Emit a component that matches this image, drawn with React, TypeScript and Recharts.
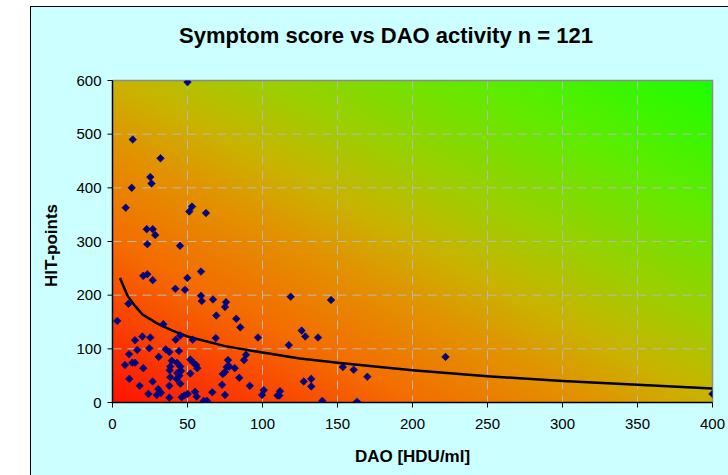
import React from 'react';
import {
  ComposedChart,
  Scatter,
  Line,
  XAxis,
  YAxis,
  CartesianGrid,
  ReferenceArea,
} from 'recharts';

// ---- Data ----
const TITLE = 'Symptom score vs DAO activity n = 121';
const X_TITLE = 'DAO [HDU/ml]';
const Y_TITLE = 'HIT-points';

const xTicks = [0, 50, 100, 150, 200, 250, 300, 350, 400];
const yTicks = [0, 100, 200, 300, 400, 500, 600];

const daoValues = [
  50, 13.5, 32, 25.2, 26, 12.8, 8.8, 53, 51.2, 62.3,
  22.8, 26.8, 28.5, 23.2, 45, 20.5, 23.2, 26.8, 49.9, 59,
  41.9, 48.3, 59, 59.5, 67, 75.7, 75, 10.6, 69.2, 3.2,
  82.5, 85.2, 33.9, 68.8, 97, 15, 19.9, 25.2, 42.1, 45.2,
  53.5, 16.5, 24.5, 35.5, 37.9, 44.3, 11, 30.8, 39.5, 43,
  45.2, 8.3, 13.2, 15, 38.5, 51.9, 53.9, 55.7, 56.5, 20.5,
  38.1, 43.2, 45.7, 51.9, 38.5, 44.5, 11.2, 42.8, 45.2, 26.8,
  18.1, 37.9, 30.5, 32.3, 29.5, 23.9, 37.9, 46.1, 47.9, 50.1,
  55, 56.1, 60.8, 63, 66.5, 73, 75, 73.5, 77, 76.1,
  75, 77.9, 81.5, 84.5, 87.7, 89, 91.5, 99.7, 100.8, 110,
  118.8, 145.7, 126.1, 128.5, 137, 117.5, 222, 153.5, 160.8, 169.9,
  127.5, 132.5, 132.5, 111.7, 111.2, 139.9, 163, 400,
];
const hitValues = [
  597, 490, 455, 420, 408, 400, 363, 365, 356, 353,
  323, 323, 312, 295, 292, 236, 239, 228, 232, 244,
  212, 210, 199, 189, 192, 187, 178, 184, 162, 152,
  156, 140, 146, 120, 121, 116, 123, 121, 117, 125,
  117, 98, 101, 99, 94, 96, 90, 85, 78, 74,
  67, 70, 74, 74, 67, 80, 74, 70, 64, 64,
  60, 55, 59, 54, 47, 50, 44, 44, 35, 39,
  31, 31, 25, 18, 14, 16, 9, 10, 13, 16,
  20, 11, 3, 3, 19, 33, 14, 53, 79, 66,
  57, 67, 64, 46, 79, 89, 31, 14, 23, 13,
  197, 191, 134, 123, 121, 107, 85, 66, 61, 48,
  39, 44, 30, 21, 13, 3, 1.5, 16,
];

// trend line values
const trendDao = [5, 10, 15, 20, 30, 40, 50, 75, 100, 125, 150, 200, 250, 300, 350, 400];
const trendHit = [232, 199, 180, 164, 147, 134, 123, 105, 93, 82, 74, 60, 49, 40, 33, 26];

const scatterData = daoValues.map((x, i) => ({ x, y: hitValues[i] }));
const trendData = trendDao.map((x, i) => ({ x, y: trendHit[i] }));

// ---- Styling ----
const FONT = "'Liberation Sans', Arial, Helvetica, sans-serif";
const W = 728;
const H = 475;

const Diamond = (props: any) => {
  const { cx, cy } = props;
  if (cx == null || cy == null) return null;
  const r = 3.8;
  return (
    <polygon
      points={`${cx},${cy - r} ${cx + r},${cy} ${cx},${cy + r} ${cx - r},${cy}`}
      fill="#000080"
      stroke="#000080"
      strokeWidth={0.6}
    />
  );
};

const TopRightBorder = (props: any) => {
  const { x, y, width, height } = props;
  if (x == null) return null;
  return (
    <path
      d={`M${x},${y} L${x + width},${y} L${x + width},${y + height}`}
      fill="none"
      stroke="#8c8c8c"
      strokeWidth={1.5}
    />
  );
};

export default function App() {
  return (
    <div
      style={{
        position: 'absolute',
        left: 0,
        top: 0,
        width: W,
        height: H,
        overflow: 'hidden',
        background: '#ffffff',
        fontFamily: FONT,
      }}
    >
      <svg width={0} height={0} style={{ position: 'absolute' }}>
        <defs>
          <linearGradient id="plotGrad" x1="0" y1="1" x2="1" y2="0">
            <stop offset="0" stopColor="rgb(255,18,0)" />
            <stop offset="0.25" stopColor="rgb(244,108,0)" />
            <stop offset="0.4" stopColor="rgb(226,146,0)" />
            <stop offset="0.5" stopColor="rgb(202,178,0)" />
            <stop offset="0.62" stopColor="rgb(158,206,0)" />
            <stop offset="0.8" stopColor="rgb(95,235,0)" />
            <stop offset="1" stopColor="rgb(28,255,0)" />
          </linearGradient>
        </defs>
      </svg>
      <div
        style={{
          position: 'absolute',
          left: 30,
          top: 6,
          width: 740,
          height: 500,
          background: '#CCFFFF',
          border: '1px solid #000',
          boxSizing: 'border-box',
        }}
      />
      <div style={{ position: 'absolute', left: 0, top: 0 }}>
        <ComposedChart
          width={W}
          height={H}
          margin={{ top: 80.5, right: 15.5, left: 32.5, bottom: 42.5 }}
        >
          <CartesianGrid
            fill="url(#plotGrad)"
            fillOpacity={1}
            stroke="#b9b9b9"
            strokeDasharray="9 6"
            strokeWidth={1}
          />
          <XAxis
            type="number"
            dataKey="x"
            domain={[0, 400]}
            ticks={xTicks}
            interval={0}
            height={30}
            axisLine={{ stroke: '#000', strokeWidth: 1.5 }}
            tickLine={{ stroke: '#000' }}
            tickSize={5}
            tickMargin={11}
            tick={{ fill: '#000', fontSize: 15, fontFamily: FONT }}
            allowDataOverflow
          />
          <YAxis
            type="number"
            dataKey="y"
            domain={[0, 600]}
            ticks={yTicks}
            interval={0}
            width={80}
            axisLine={{ stroke: '#000', strokeWidth: 1.5 }}
            tickLine={{ stroke: '#000' }}
            tickSize={5}
            tickMargin={6}
            tick={{ fill: '#000', fontSize: 15, fontFamily: FONT }}
            allowDataOverflow
          />
          <ReferenceArea
            x1={0}
            x2={400}
            y1={0}
            y2={600}
            shape={<TopRightBorder />}
          />
          <Scatter
            data={scatterData}
            dataKey="y"
            shape={<Diamond />}
            isAnimationActive={false}
          />
          <Line
            data={trendData}
            dataKey="y"
            type="linear"
            stroke="#000"
            strokeWidth={2.5}
            dot={false}
            activeDot={false}
            isAnimationActive={false}
          />
        </ComposedChart>
      </div>
      <svg
        width={W}
        height={H}
        style={{ position: 'absolute', left: 0, top: 0, pointerEvents: 'none' }}
      >
        <text
          x={386}
          y={43}
          textAnchor="middle"
          fontFamily={FONT}
          fontWeight="bold"
          fontSize={22}
          fill="#000"
        >
          {TITLE}
        </text>
        <text
          x={412.5}
          y={461.5}
          textAnchor="middle"
          fontFamily={FONT}
          fontWeight="bold"
          fontSize={17}
          fill="#000"
        >
          {X_TITLE}
        </text>
        <text
          transform="translate(57,245.5) rotate(-90)"
          x={0}
          y={0}
          textAnchor="middle"
          fontFamily={FONT}
          fontWeight="bold"
          fontSize={17}
          fill="#000"
        >
          {Y_TITLE}
        </text>
      </svg>
    </div>
  );
}
